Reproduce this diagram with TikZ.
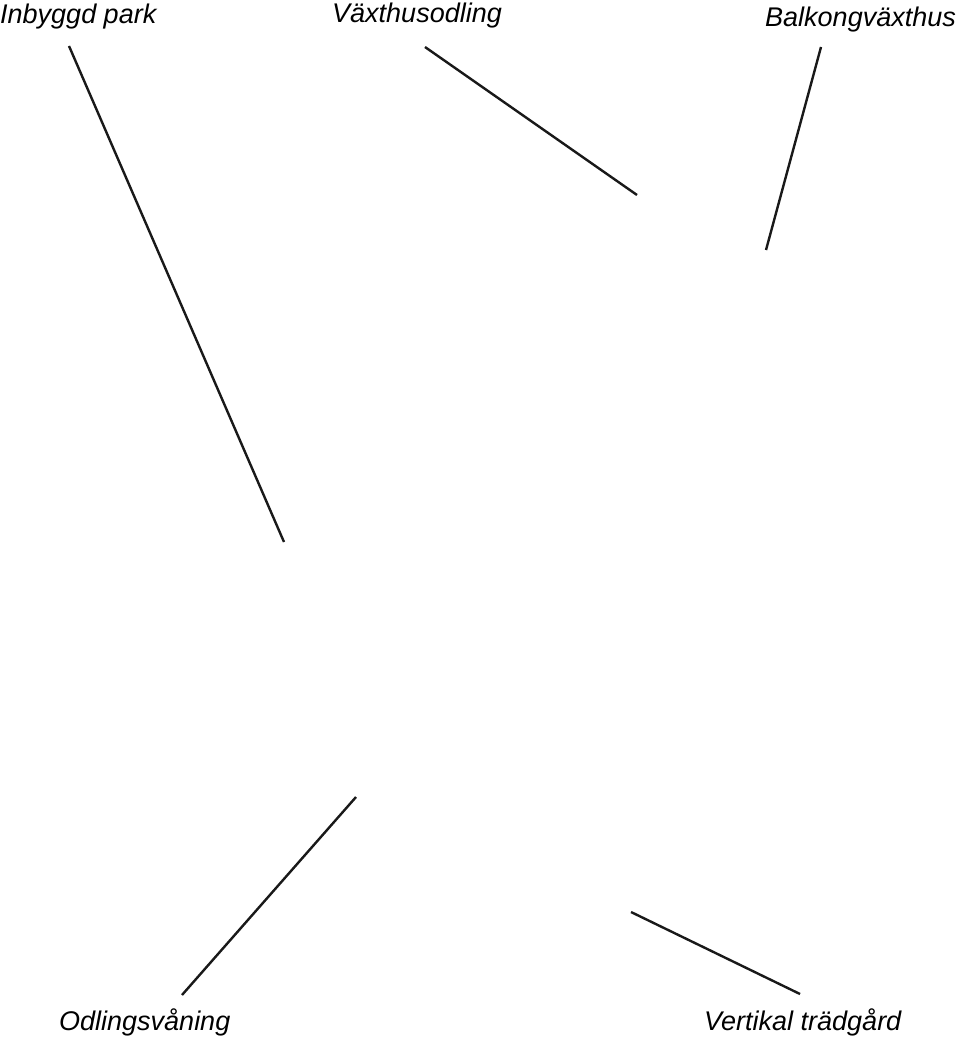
\documentclass[tikz,border=0pt]{standalone}
\usepackage{fontspec}
\setmainfont{Liberation Sans}
\begin{document}
\begin{tikzpicture}[x=1pt,y=-1pt,
  lbl/.style={anchor=base west,inner sep=0pt,font=\fontsize{27}{32}\selectfont\itshape},
  leader/.style={line width=2.4pt,draw=black!90,line cap=butt}]
\useasboundingbox[fill=white] (0,0) rectangle (960,1038);
\node[lbl] (inb) at (0,24) {Inbyggd park};
\node[lbl] (vax) at (332,22.5) {Växthusodling};
\node[lbl] (bal) at (765,26.5) {Balkongväxthus};
\node[lbl] (odl) at (59,1030) {Odlingsvåning};
\node[lbl] (ver) at (704,1030) {Vertikal trädgård};
\coordinate (inbA) at (69,46);
\coordinate (inbB) at (284,542);
\coordinate (vaxA) at (425,47);
\coordinate (vaxB) at (637,195);
\coordinate (balA) at (821,47);
\coordinate (balB) at (766,250);
\coordinate (odlA) at (182,995);
\coordinate (odlB) at (356,797);
\coordinate (verA) at (800,994);
\coordinate (verB) at (631,912);
\draw[leader] (inbA) -- (inbB);
\draw[leader] (vaxA) -- (vaxB);
\draw[leader] (balA) -- (balB);
\draw[leader] (odlA) -- (odlB);
\draw[leader] (verA) -- (verB);
\end{tikzpicture}
\end{document}
